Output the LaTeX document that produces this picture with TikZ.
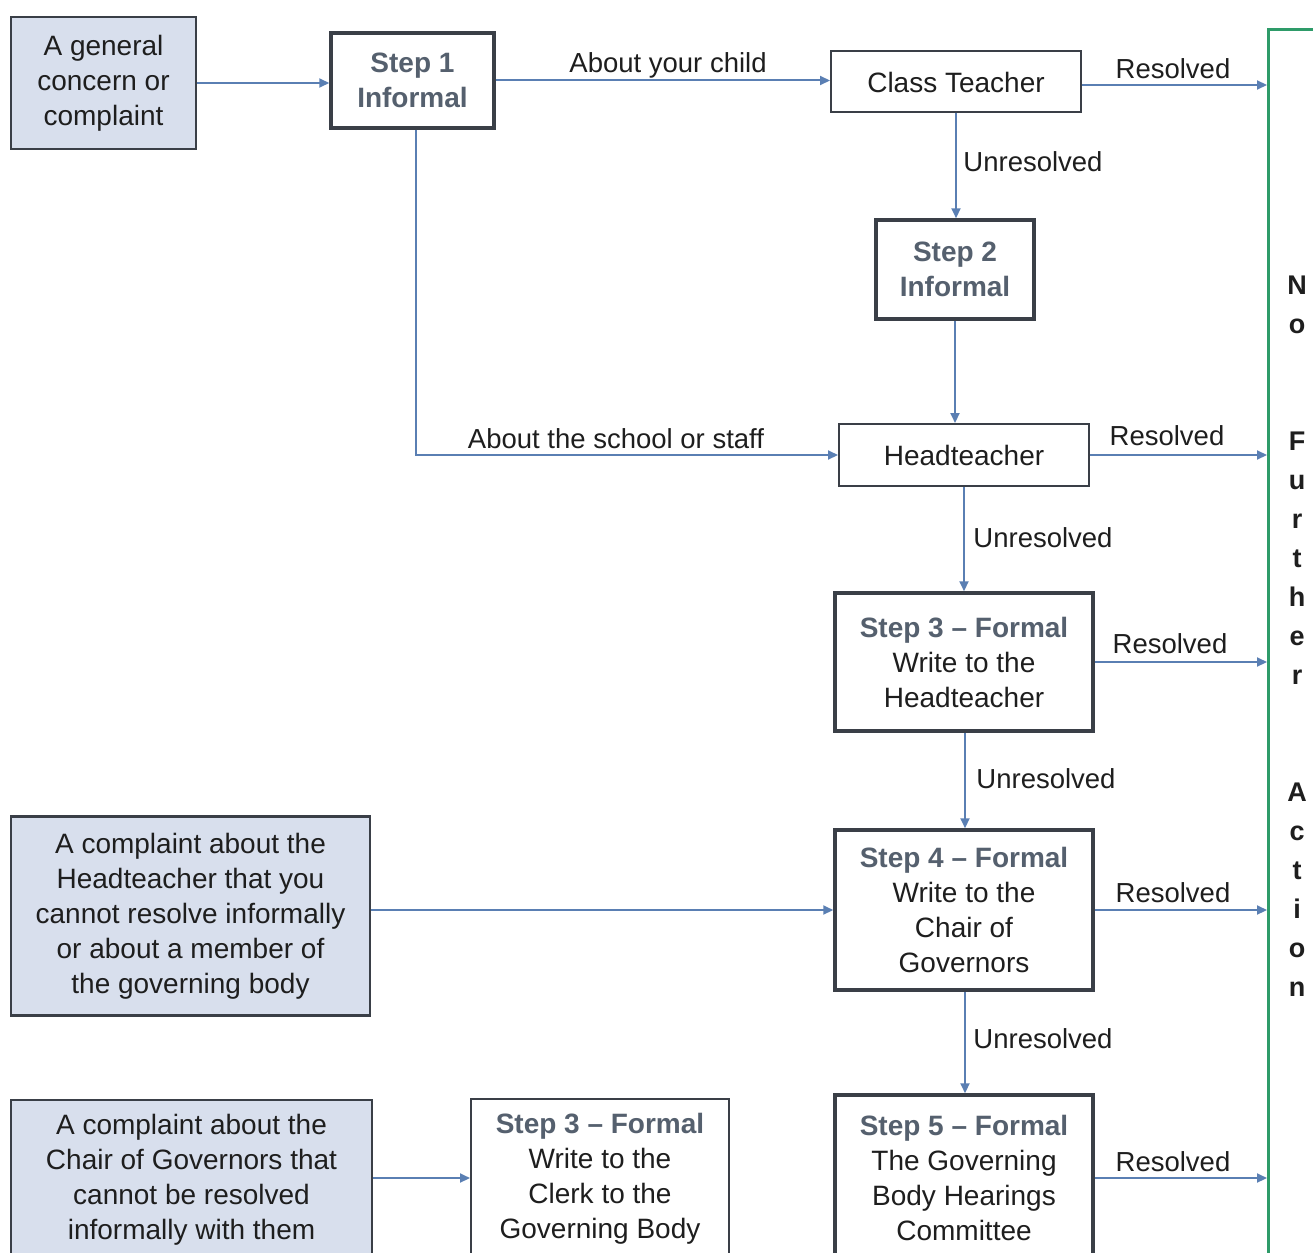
\documentclass[tikz,border=0pt]{standalone}
\usepackage{fontspec}
\setmainfont{Liberation Sans}
\usetikzlibrary{arrows.meta}
\definecolor{edge}{HTML}{3A3F47}
\definecolor{stepc}{HTML}{55606E}
\definecolor{arr}{HTML}{5A7FB3}
\definecolor{bluefill}{HTML}{D8DFED}
\definecolor{greenb}{HTML}{2E9B69}
\definecolor{txt}{HTML}{1E1E1E}
\tikzset{
  base/.style={align=center, inner sep=0pt, text=txt, font=\fontsize{28}{35}\selectfont},
  thinbox/.style={base, draw=edge, line width=2pt},
  thickbox/.style={base, draw=edge, line width=3.5pt},
  srcbox/.style={base, draw=edge, line width=2.2pt, fill=bluefill},
  conn/.style={draw=arr, line width=2pt, -{Triangle[length=10pt,width=9pt]}},
  lbl/.style={inner sep=0pt, text=txt, font=\fontsize{27.5}{33}\selectfont},
}
\newcommand{\stepline}[1]{{\color{stepc}\bfseries #1}}
\begin{document}
\begin{tikzpicture}[x=1pt,y=-1pt]
\useasboundingbox[fill=white] (0,0) rectangle (1313,1252);

% nodes
\node[srcbox, minimum width=185pt, minimum height=132pt] (gen) at (103.5,83) {A general\\concern or\\complaint};
\node[thickbox, minimum width=163pt, minimum height=95pt] (s1) at (412.5,80.5) {\stepline{Step 1}\\\stepline{Informal}};
\node[thinbox, minimum width=250pt, minimum height=61pt] (ct) at (956,82) {Class Teacher};
\node[thickbox, minimum width=158pt, minimum height=99pt] (s2) at (955,269.5) {\stepline{Step 2}\\\stepline{Informal}};
\node[thinbox, minimum width=250pt, minimum height=62pt] (ht) at (964,455) {Headteacher};
\node[thickbox, minimum width=258pt, minimum height=138pt] (s3) at (964,662) {\stepline{Step 3 -- Formal}\\Write to the\\Headteacher};
\node[thickbox, minimum width=258pt, minimum height=160pt] (s4) at (964,910) {\stepline{Step 4 -- Formal}\\Write to the\\Chair of\\Governors};
\node[thickbox, minimum width=258pt, minimum height=166pt] (s5) at (964,1178) {\stepline{Step 5 -- Formal}\\The Governing\\Body Hearings\\Committee};
\node[srcbox, minimum width=359pt, minimum height=199pt] (htc) at (190.5,916) {A complaint about the\\Headteacher that you\\cannot resolve informally\\or about a member of\\the governing body};
\node[srcbox, minimum width=361pt, minimum height=160pt] (chc) at (191.5,1180) {A complaint about the\\Chair of Governors that\\cannot be resolved\\informally with them};
\node[thinbox, minimum width=258pt, minimum height=160pt] (clk) at (600,1179) {\stepline{Step 3 -- Formal}\\Write to the\\Clerk to the\\Governing Body};

% no further action box
\node[draw=greenb, line width=3.2pt, minimum width=90pt, minimum height=1300pt, inner sep=0pt, anchor=north west] (nfa) at (1267,28) {};
\node[inner sep=0pt, text=txt, align=center, font=\fontsize{27}{39}\selectfont\bfseries] (nfat) at (1297,636)
  {N\\o\\[78pt]F\\u\\r\\t\\h\\e\\r\\[78pt]A\\c\\t\\i\\o\\n};

% connectors
\draw[conn] (gen.east) -- (gen.east -| s1.west);
\draw[conn] (s1.east) -- (s1.east -| ct.west);
\draw[conn] ([yshift=-3pt]ct.east) -- ([yshift=-3pt]ct.east -| nfa.west);
\draw[conn] (ct.south) -- (ct.south |- s2.north);
\draw[conn] (s2.south) -- (s2.south |- ht.north);
\draw[conn] ([xshift=3.5pt]s1.south) |- (ht.west);
\draw[conn] (ht.east) -- (ht.east -| nfa.west);
\draw[conn] (ht.south) -- (s3.north);
\draw[conn] (s3.east) -- (s3.east -| nfa.west);
\draw[conn] ([xshift=1pt]s3.south) -- ([xshift=1pt]s4.north);
\draw[conn] (s4.west -| htc.east) -- (s4.west);
\draw[conn] (s4.east) -- (s4.east -| nfa.west);
\draw[conn] ([xshift=1pt]s4.south) -- ([xshift=1pt]s5.north);
\draw[conn] (s5.east) -- (s5.east -| nfa.west);
\draw[conn] (s5.east -| chc.east) -- (s5.east -| clk.west);

% labels
\node[lbl] (l1) at (668,65) {About your child};
\node[lbl] (l2) at (1173,69) {Resolved};
\node[lbl] (l3) at (1033,162) {Unresolved};
\node[lbl] (l4) at (616,439) {About the school or staff};
\node[lbl] (l5) at (1167,436) {Resolved};
\node[lbl] (l6) at (1043,538) {Unresolved};
\node[lbl] (l7) at (1170,644) {Resolved};
\node[lbl] (l8) at (1046,779) {Unresolved};
\node[lbl] (l9) at (1173,893) {Resolved};
\node[lbl] (l10) at (1043,1039) {Unresolved};
\node[lbl] (l11) at (1173,1162) {Resolved};
\end{tikzpicture}
\end{document}
